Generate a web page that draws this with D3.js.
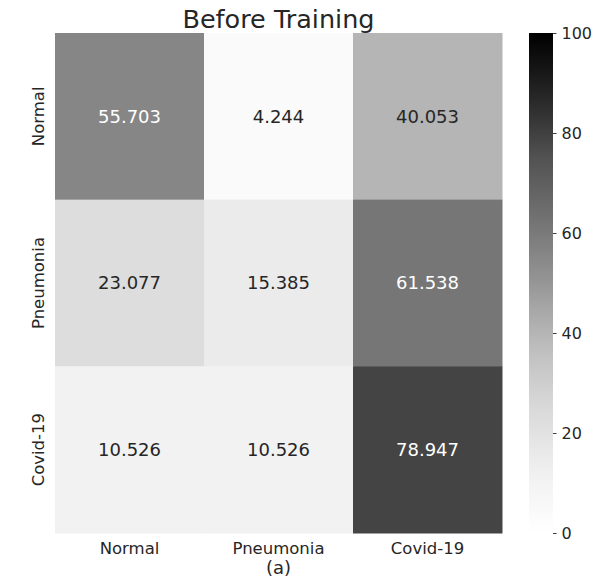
<!DOCTYPE html>
<html>
<head>
<meta charset="utf-8">
<script src="https://cdn.jsdelivr.net/npm/d3@7"></script>
<style>
  body { margin: 0; background: #fff; }
  svg text { font-family: "DejaVu Sans", sans-serif; }
</style>
</head>
<body>
<div class="heatmap"></div>
<script>
// chart data
var rowLabels = ["Normal", "Pneumonia", "Covid-19"];
var colLabels = ["Normal", "Pneumonia", "Covid-19"];
var values = [
  [55.703, 4.244, 40.053],
  [23.077, 15.385, 61.538],
  [10.526, 10.526, 78.947]
];
var barTicks = [0, 20, 40, 60, 80, 100];
var title = "Before Training";
var xTitle = "(a)";

function init() {
  var w = 605;
  var h = 580;
  var left = 55, right = 502, top = 33, bottom = 533;

  var svg = d3.select(".heatmap")
    .append("svg")
    .attr("width", w)
    .attr("height", h);

  // matplotlib "Greys" stops
  var greyStops = ["#ffffff", "#f0f0f0", "#d9d9d9", "#bdbdbd", "#969696",
                   "#737373", "#525252", "#252525", "#000000"];
  var color = d3.scaleLinear()
    .domain(greyStops.map(function(d, i) { return i * 100 / 8; }))
    .range(greyStops)
    .interpolate(d3.interpolateRgb);

  // relative luminance, like seaborn does for annotation colour
  function lum(c) {
    c = d3.rgb(c);
    var ch = [c.r, c.g, c.b].map(function(v) {
      v = v / 255;
      return v <= 0.03928 ? v / 12.92 : Math.pow((v + 0.055) / 1.055, 2.4);
    });
    return 0.2126 * ch[0] + 0.7152 * ch[1] + 0.0722 * ch[2];
  }

  var xScale = d3.scaleBand().domain(colLabels).range([left, right]);
  var yScale = d3.scaleBand().domain(rowLabels).range([top, bottom]);

  var cells = [];
  values.forEach(function(row, i) {
    row.forEach(function(v, j) {
      cells.push({ row: rowLabels[i], col: colLabels[j], value: v });
    });
  });

  svg.selectAll(".cell")
    .data(cells)
    .enter()
    .append("rect")
    .attr("class", "cell")
    .attr("x", function(d) { return xScale(d.col); })
    .attr("y", function(d) { return yScale(d.row); })
    .attr("width", xScale.bandwidth() + 0.5)
    .attr("height", yScale.bandwidth() + 0.5)
    .attr("fill", function(d) { return color(d.value); });

  svg.selectAll(".val")
    .data(cells)
    .enter()
    .append("text")
    .attr("class", "val")
    .attr("x", function(d) { return xScale(d.col) + xScale.bandwidth() / 2; })
    .attr("y", function(d) { return yScale(d.row) + yScale.bandwidth() / 2; })
    .attr("dy", "0.36em")
    .attr("text-anchor", "middle")
    .style("font-size", "18px")
    .attr("fill", function(d) {
      return lum(color(d.value)) > 0.408 ? "#262626" : "#ffffff";
    })
    .text(function(d) { return d.value.toFixed(3); });

  // tick labels
  svg.selectAll(".xlab")
    .data(colLabels)
    .enter()
    .append("text")
    .attr("x", function(d) { return xScale(d) + xScale.bandwidth() / 2; })
    .attr("y", 554)
    .attr("text-anchor", "middle")
    .style("font-size", "16.5px")
    .attr("fill", "#262626")
    .text(function(d) { return d; });

  svg.selectAll(".ylab")
    .data(rowLabels)
    .enter()
    .append("text")
    .attr("transform", function(d) {
      return "translate(44," + (yScale(d) + yScale.bandwidth() / 2) + ") rotate(-90)";
    })
    .attr("text-anchor", "middle")
    .style("font-size", "16.5px")
    .attr("fill", "#262626")
    .text(function(d) { return d; });

  // colorbar
  var cbX = 529, cbW = 24;
  var cbScale = d3.scaleLinear().domain([0, 100]).range([bottom, top]);
  var defs = svg.append("defs");
  var grad = defs.append("linearGradient")
    .attr("id", "cbGrad")
    .attr("x1", 0).attr("y1", 1).attr("x2", 0).attr("y2", 0);
  d3.range(0, 101, 5).forEach(function(t) {
    grad.append("stop")
      .attr("offset", t + "%")
      .attr("stop-color", color(t));
  });
  svg.append("rect")
    .attr("x", cbX)
    .attr("y", cbScale(100))
    .attr("width", cbW)
    .attr("height", cbScale(0) - cbScale(100))
    .attr("fill", "url(#cbGrad)");

  var cbAxis = d3.axisRight(cbScale)
    .tickValues(barTicks)
    .tickSize(3.5)
    .tickPadding(5);
  var cbG = svg.append("g")
    .attr("transform", "translate(" + (cbX + cbW) + ",0)")
    .call(cbAxis);
  cbG.select(".domain").remove();
  cbG.selectAll("line").attr("stroke", "#262626").attr("stroke-width", 0.9);
  cbG.selectAll("text")
    .style("font-size", "16px")
    .style("font-family", "DejaVu Sans, sans-serif")
    .attr("fill", "#262626");

  // titles
  svg.append("text")
    .attr("x", (left + right) / 2)
    .attr("y", 28)
    .attr("text-anchor", "middle")
    .style("font-size", "25.5px")
    .attr("fill", "#262626")
    .text(title);

  svg.append("text")
    .attr("x", (left + right) / 2)
    .attr("y", 574)
    .attr("text-anchor", "middle")
    .style("font-size", "18px")
    .attr("fill", "#262626")
    .text(xTitle);
}
window.onload = init;
</script>
</body>
</html>
